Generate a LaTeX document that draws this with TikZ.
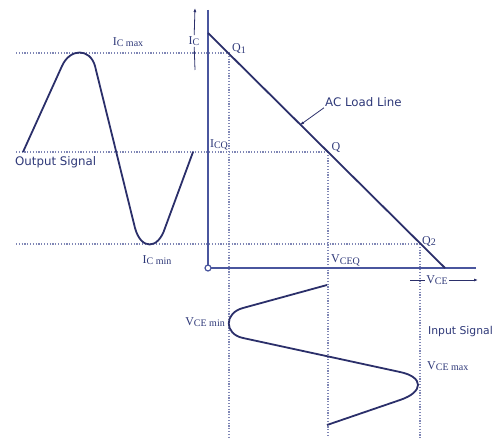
\documentclass[tikz,border=0pt]{standalone}
\usepackage{fontspec}
\setmainfont{Liberation Serif}
\newfontfamily\labelsans{DejaVu Sans}
\definecolor{AxisBlue}{HTML}{4A569E}
\definecolor{CurveNavy}{HTML}{2B2F6A}
\definecolor{GuideGray}{HTML}{7F86B5}
\definecolor{LabelNavy}{HTML}{2E3878}
\usetikzlibrary{arrows.meta, positioning}
\tikzset{
  axisline/.style={draw=AxisBlue, line width=2.6pt},
  loadline/.style={draw=CurveNavy, line width=1.8pt},
  signal/.style={draw=CurveNavy, line width=1.8pt, line join=round},
  guide/.style={draw=GuideGray, line width=1.2pt, dash pattern=on 1.2pt off 1.6pt},
  serlabel/.style={text=LabelNavy, font=\fontsize{12}{14}\selectfont, inner sep=1pt},
  sanslabel/.style={text=LabelNavy, font=\labelsans\fontsize{11.8}{14}\selectfont, inner sep=1pt},
  pointer/.style={-{Latex[length=4pt]}, draw=CurveNavy, line width=0.8pt}
}
\newcommand{\subtag}[1]{\raisebox{-1.2pt}{\fontsize{10}{11}\selectfont #1}}

\begin{document}
\begin{tikzpicture}[x=1pt, y=-1pt]
\useasboundingbox (0,0) rectangle (497,438);
\coordinate (O) at (208,268);
\coordinate (ytop) at (208,10);
\coordinate (xend) at (476,268);
\coordinate (lltop) at (208,33);
\coordinate (llfoot) at (445,268);
\coordinate (Q1) at (229,53);
\coordinate (Q) at (328,152);
\coordinate (Q2) at (420,244);
\coordinate (gmax) at (16,53);
\coordinate (gq) at (16,152);
\coordinate (gmin) at (16,244);
\coordinate (b1) at (229,438);
\coordinate (bq) at (328,438);
\coordinate (b2) at (420,438);

\draw[guide] (gmax) -- (Q1);
\draw[guide] (gq) -- (Q);
\draw[guide] (gmin) -- (Q2);
\draw[guide] (Q1) -- (b1);
\draw[guide] (Q) -- (bq);
\draw[guide] (Q2) -- (b2);

\draw[axisline] (ytop) -- (O) -- (xend);
\draw[loadline] (lltop) -- (llfoot);
\draw[draw=AxisBlue, fill=white, line width=1.2pt] (O) circle (3);

\draw[signal] (23,152) -- (62,66) .. controls (70,48) and (90,48) .. (95,66)
  -- (135,228) .. controls (141,250) and (158,250) .. (165,228) -- (193,152);
\draw[signal] (327,285) -- (243,308) .. controls (224,313) and (224,334) .. (243,338)
  -- (400,372) .. controls (424,377) and (424,392) .. (400,400) -- (327,425);

\node[serlabel] (icmax) at (128,42) {I\subtag{C max}};
\node[serlabel] (iclab) at (194,41) {I\subtag{C}};
\coordinate (ictip) at (195,8);
\coordinate (icfoot) at (195,70);
\draw[pointer] (iclab) -- (ictip);
\draw[draw=CurveNavy, line width=0.8pt] (iclab) -- (icfoot);
\node[serlabel] (icq) at (219,145) {I\subtag{CQ}};
\node[serlabel] (icmin) at (157,260) {I\subtag{C min}};
\node[sanslabel, anchor=west] (outsig) at (14,162) {Output Signal};
\node[serlabel] (q1lab) at (239,49) {Q\subtag{1}};
\node[serlabel] (qlab) at (336,148) {Q};
\node[serlabel] (q2lab) at (429,241) {Q\subtag{2}};
\node[sanslabel, anchor=west] (acll) at (324,102) {AC Load Line};
\coordinate (llpt) at (300,125);
\draw[pointer] (acll.south west) -- (llpt);
\node[serlabel, anchor=south west] (vceq) at (330,267) {V\subtag{CEQ}};
\node[serlabel] (vcelab) at (437,280) {V\subtag{CE}};
\coordinate (vcestart) at (410,280);
\coordinate (vcetip) at (478,280);
\draw[draw=CurveNavy, line width=0.8pt] (vcestart) -- (vcelab);
\draw[pointer] (vcelab) -- (vcetip);
\node[serlabel, anchor=east] (vcemin) at (226,322) {V\subtag{CE min}};
\node[serlabel, anchor=west] (vcemax) at (426,366) {V\subtag{CE max}};
\node[sanslabel, anchor=west, font=\labelsans\fontsize{10.8}{13}\selectfont] (insig) at (427,332) {Input Signal};
\end{tikzpicture}
\end{document}
